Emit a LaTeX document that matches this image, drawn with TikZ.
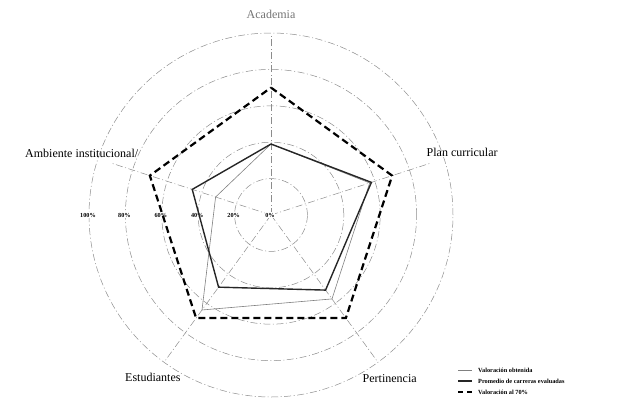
\documentclass[tikz,border=0pt]{standalone}
\usepackage{fontspec}
\setmainfont{Liberation Serif}
\usetikzlibrary{positioning}

\def\R{182}

\begin{document}
\begin{tikzpicture}[x=1pt,y=1pt,
  grid/.style={black!45,line width=0.5pt,dash pattern=on 7pt off 2.5pt on 1pt off 2.5pt},
  lab/.style={font=\fontsize{12}{14}\selectfont,inner sep=1pt},
  pct/.style={font=\bfseries\fontsize{6.2}{7}\selectfont,fill=white,inner sep=0.6pt},
  leg/.style={font=\bfseries\fontsize{6.3}{7}\selectfont,anchor=west,inner sep=0pt},
  obt/.style={black!50,line width=0.6pt},
  prom/.style={black!85,line width=1.4pt},
  seventy/.style={black,line width=2.2pt,dash pattern=on 7pt off 4pt}]
  \useasboundingbox (-271,-185) rectangle (360,215);
  \coordinate (o) at (0,0);
  % rings
  \foreach \p in {0.2,0.4,0.6,0.8,1}
    \draw[grid] (o) circle ({\p*\R});
  % axes
  \coordinate (aca) at (90:\R);
  \coordinate (plan) at (18:167);
  \coordinate (per) at (-54:\R);
  \coordinate (est) at (-126:\R);
  \coordinate (amb) at (162:167);
  \foreach \e in {aca,plan,per,est,amb}
    \draw[grid] (o) -- (\e);
  \node[lab,text=black!55] (acalab) at (90:201) {Academia};
  \node[lab] (planlab) at (18:201) {Plan curricular};
  \node[lab] (perlab) at (-54:202) {Pertinencia};
  \node[lab] (estlab) at (-126:201) {Estudiantes};
  \node[lab] (amblab) at (162:199) {Ambiente institucional/};
  % scale
  \foreach \p/\t in {0/0,0.2/20,0.4/40,0.6/60,0.8/80,1/100}
    \node[pct] (p\t) at ({-\p*\R-1},0) {\t\%};
  % series
  \draw[seventy] (90:{0.7*\R}) -- (18:{0.7*\R}) -- (-54:{0.7*\R})
    -- (-126:{0.7*\R}) -- (162:{0.7*\R}) -- cycle;
  \draw[obt] (90:{0.39*\R}) -- (18:{0.57*\R}) -- (-54:{0.57*\R})
    -- (-126:{0.645*\R}) -- (162:{0.32*\R}) -- cycle;
  \draw[prom] (90:{0.39*\R}) -- (18:{0.58*\R}) -- (-54:{0.51*\R})
    -- (-126:{0.49*\R}) -- (162:{0.455*\R}) -- cycle;
  % legend
  \node[leg] (l1) at (207,-155) {Valoración obtenida};
  \node[leg] (l2) at (207,-166) {Promedio de carreras evaluadas};
  \node[leg] (l3) at (207,-177) {Valoración al 70\%};
  \draw[obt] ([xshift=-20pt]l1.west) -- ([xshift=-6pt]l1.west);
  \draw[prom] ([xshift=-20pt]l2.west) -- ([xshift=-6pt]l2.west);
  \draw[seventy,dash pattern=on 5pt off 4pt] ([xshift=-20pt]l3.west) -- ([xshift=-6pt]l3.west);
\end{tikzpicture}
\end{document}
